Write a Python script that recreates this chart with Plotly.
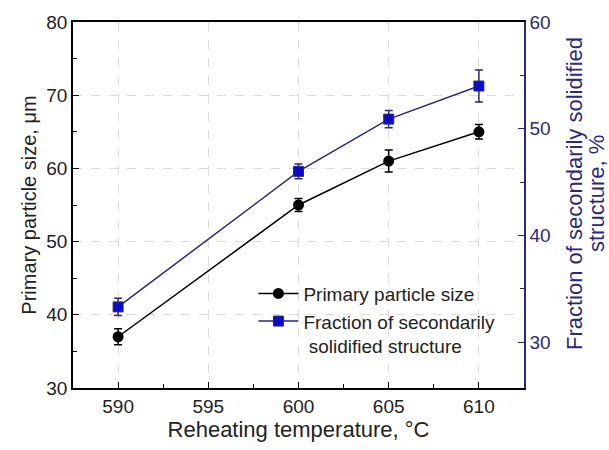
import plotly.graph_objects as go

temps = [590, 600, 605, 610]
particle_size = [37, 55, 61, 65]
particle_err = [1.1, 0.9, 1.5, 1.0]
fraction = [33.3, 46.0, 50.9, 54.0]
fraction_err = [0.8, 0.7, 0.8, 1.5]

x_ticks = [590, 595, 600, 605, 610]
left_ticks = [30, 40, 50, 60, 70, 80]
right_ticks = [30, 40, 50, 60]

FONT = "Liberation Sans, Arial, sans-serif"
NAVY = "#2a2a7a"
BLUE = "#0a0ac8"

fig = go.Figure()
fig.add_trace(go.Scatter(
    x=temps, y=particle_size, name="Primary particle size",
    mode="lines+markers",
    line=dict(color="black", width=1.5),
    marker=dict(symbol="circle", size=11, color="black"),
    error_y=dict(type="data", array=particle_err, color="black", thickness=1.5, width=4),
))
fig.add_trace(go.Scatter(
    x=temps, y=fraction, name="Fraction of secondarily<br> solidified structure",
    mode="lines+markers", yaxis="y2",
    line=dict(color=NAVY, width=1.5),
    marker=dict(symbol="square", size=10, color=BLUE, line=dict(color=NAVY, width=1)),
    error_y=dict(type="data", array=fraction_err, color=NAVY, thickness=1.5, width=4),
))

fig.update_layout(
    width=609, height=450,
    margin=dict(l=73, r=85, t=22, b=62),
    plot_bgcolor="white", paper_bgcolor="white",
    font=dict(family=FONT, size=18, color="#222"),
    showlegend=True,
    legend=dict(x=0.40, y=0.31, xanchor="left", yanchor="top",
                bgcolor="rgba(0,0,0,0)", font=dict(size=19, color="#222"),
                valign="top", tracegroupgap=0, itemwidth=40),
    xaxis=dict(
        range=[587.5, 612.5], tickvals=x_ticks, ticks="inside", ticklen=6,
        tickcolor="black", showline=True, linecolor="black", linewidth=1.5,
        mirror=True, showgrid=True, gridcolor="#dcdcdc", griddash="dash", gridwidth=1,
        zeroline=False,
        minor=dict(dtick=2.5, tick0=587.5, ticks="inside", ticklen=4, tickcolor="black", showgrid=False),
        title=dict(text="Reheating temperature, °C", font=dict(size=22), standoff=6),
        tickfont=dict(size=19),
    ),
    yaxis=dict(
        range=[30, 80], tickvals=left_ticks, ticks="inside", ticklen=6,
        tickcolor="black", showline=True, linecolor="black", linewidth=1.5,
        showgrid=True, gridcolor="#dcdcdc", griddash="dash", gridwidth=1,
        zeroline=False,
        minor=dict(dtick=5, tick0=30, ticks="inside", ticklen=4, tickcolor="black", showgrid=False),
        title=dict(text="Primary particle size, μm", font=dict(size=20), standoff=4),
        tickfont=dict(size=19),
    ),
    yaxis2=dict(
        overlaying="y", side="right",
        range=[25.7, 60], tickvals=right_ticks, ticks="inside", ticklen=6,
        tickcolor=NAVY, showline=True, linecolor=NAVY, linewidth=1.5,
        showgrid=False, zeroline=False,
        minor=dict(dtick=5, tick0=30, ticks="inside", ticklen=4, tickcolor=NAVY, showgrid=False),
        tickfont=dict(size=19, color=NAVY),
    ),
    annotations=[
        dict(text="Fraction of secondarily solidified", xref="paper", yref="paper",
             x=1.0, xshift=50, y=0.53, textangle=-90, showarrow=False,
             xanchor="center", yanchor="middle", font=dict(size=22, color=NAVY)),
        dict(text="structure, %", xref="paper", yref="paper",
             x=1.0, xshift=72, y=0.53, textangle=-90, showarrow=False,
             xanchor="center", yanchor="middle", font=dict(size=22, color=NAVY)),
    ],
)

fig.write_html("out.html")
